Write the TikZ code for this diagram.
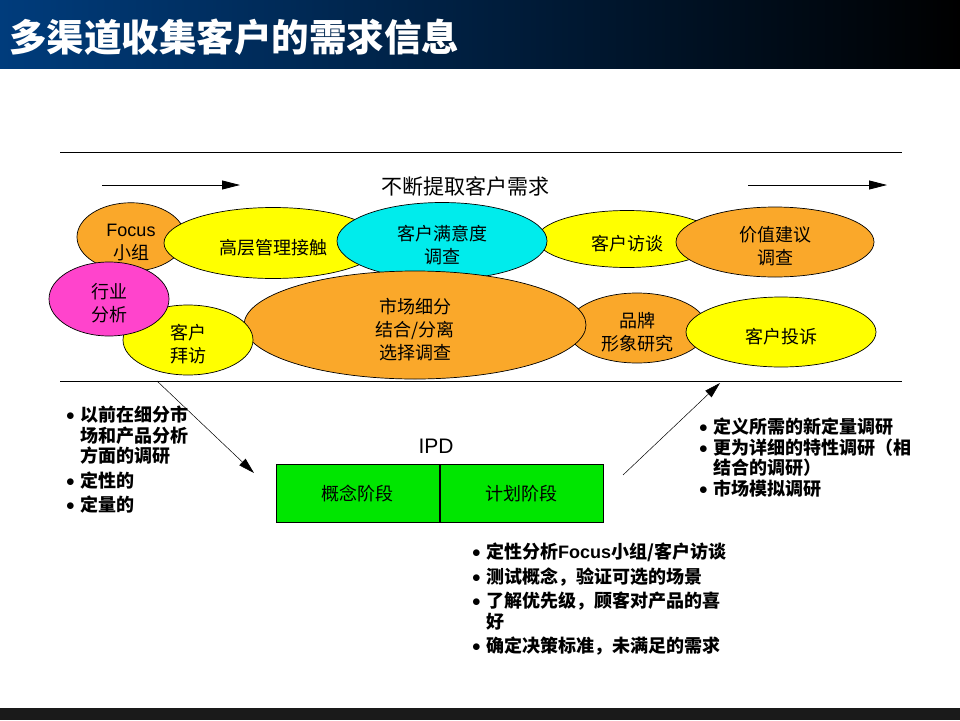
\documentclass[tikz,border=0pt]{standalone}
\usepackage{fontspec}
\setmainfont{Noto Sans CJK SC}
\newfontfamily\arial{Liberation Sans}
\usetikzlibrary{shapes.geometric, positioning, arrows.meta}
\definecolor{barblue}{RGB}{0,60,124}
\definecolor{footgray}{RGB}{26,26,26}
\definecolor{bubbleorange}{RGB}{250,168,42}
\definecolor{bubbleyellow}{RGB}{255,255,0}
\definecolor{bubblecyan}{RGB}{0,236,236}
\definecolor{bubblepink}{RGB}{255,68,204}
\definecolor{phasegreen}{RGB}{0,230,0}
\tikzset{
    bubble/.style={ellipse, draw, line width=0.7pt, inner sep=0pt, align=center,
        font=\fontsize{18}{23}\selectfont}, % survey ellipses
    phase/.style={rectangle, draw, line width=0.8pt, fill=phasegreen, inner sep=0pt,
        minimum width=163pt, minimum height=58pt, font=\fontsize{18}{22}\selectfont},
    bullets/.style={anchor=north west, inner sep=0pt, align=left,
        font=\bfseries\fontsize{18}{20.5}\selectfont},
    flow/.style={-{Triangle[length=18pt,width=9pt]}, line width=0.8pt},
    lead/.style={-{Triangle[length=16pt,width=9pt]}, line width=0.5pt},
    rule/.style={line width=0.8pt},
}
\newcommand{\bul}{\makebox[14pt][l]{\raisebox{1pt}{$\bullet$}}}
\newcommand{\cont}{\hspace*{14pt}}
\newcommand{\lift}{\rule{0pt}{24pt}} % text sits a little low in the ellipses

\begin{document}
\begin{tikzpicture}[x=1pt, y=-1pt]
    \useasboundingbox (0,0) rectangle (960,720);
    % Title bar and footer
    \fill[left color=barblue, right color=black] (0,0) rectangle (960,68);
    \node[anchor=west, inner sep=0pt, text=white, font=\bfseries\fontsize{37.5}{40}\selectfont]
        (title) at (9,37) {多渠道收集客户的需求信息};
    \fill[footgray] (0,708) rectangle (960,720);

    % Rules and the flow arrows
    \coordinate (topl) at (60,152);
    \coordinate (topr) at (902,152);
    \coordinate (botl) at (60,381);
    \coordinate (botr) at (902,381);
    \draw[rule] (topl) -- (topr);
    \draw[rule] (botl) -- (botr);
    \coordinate (fa1) at (102,185);
    \coordinate (fa2) at (240,185);
    \coordinate (fb1) at (748,185);
    \coordinate (fb2) at (887,185);
    \draw[flow] (fa1) -- (fa2);
    \draw[flow] (fb1) -- (fb2);
    \node[font=\fontsize{21}{24}\selectfont] (goal) at (465,186) {不断提取客户需求};

    % Ellipses, back to front
    \node[bubble, fill=bubbleorange, minimum width=108pt, minimum height=68pt]
        (focus) at (131,237) {\lift{\arial Focus}\\小组};
    \node[bubble, fill=bubbleyellow, minimum width=218pt, minimum height=71pt]
        (exec) at (273,243) {\lift 高层管理接触};
    \node[bubble, fill=bubbleyellow, minimum width=180pt, minimum height=57pt]
        (interview) at (627,239) {\lift 客户访谈};
    \node[bubble, fill=bubblecyan, minimum width=210pt, minimum height=77pt]
        (satis) at (442,241) {\lift 客户满意度\\调查};
    \node[bubble, fill=bubbleorange, minimum width=198pt, minimum height=70pt]
        (value) at (775,242) {\lift 价值建议\\调查};
    \node[bubble, fill=bubbleorange, minimum width=140pt, minimum height=70pt]
        (brand) at (637,328) {\lift 品牌\\形象研究};
    \node[bubble, fill=bubbleorange, minimum width=342pt, minimum height=108pt]
        (segment) at (415,325) {\lift 市场细分\\结合/分离\\选择调查};
    \node[bubble, fill=bubbleyellow, minimum width=190pt, minimum height=70pt]
        (complaint) at (781,332) {\lift 客户投诉};
    \node[bubble, fill=bubbleyellow, minimum width=130pt, minimum height=70pt]
        (visit) at (188,340) {\lift 客户\\拜访};
    \node[bubble, fill=bubblepink, minimum width=120pt, minimum height=74pt]
        (industry) at (109,299) {\lift 行业\\分析};

    % IPD phases
    \node[phase, anchor=north west] (concept) at (276,464) {概念阶段};
    \node[phase, right=0pt of concept] (plan) {计划阶段};
    \node[font=\arial\fontsize{21}{24}\selectfont] (ipd) at (436,446) {IPD};

    % Leads in and out
    \coordinate (lstart) at (157,381);
    \coordinate (ltip) at (254,473);
    \coordinate (rstart) at (623,475);
    \coordinate (rtip) at (720,383);
    \draw[lead] (lstart) -- (ltip);
    \draw[lead] (rstart) -- (rtip);

    % Notes
    \node[bullets] (before) at (66,406)
        {\bul 以前在细分市\\ \cont 场和产品分析\\ \cont 方面的调研\\[4pt]
         \bul 定性的\\[4pt] \bul 定量的};
    \node[bullets] (after) at (699,418)
        {\bul 定义所需的新定量调研\\ \bul 更为详细的特性调研（相\\
         \cont 结合的调研）\\ \bul 市场模拟调研};
    \node[bullets] (during) at (472,543)
        {\bul 定性分析{\arial Focus}小组/客户访谈\\[4pt] \bul 测试概念，验证可选的场景\\[4pt]
         \bul 了解优先级，顾客对产品的喜\\ \cont 好\\[4pt] \bul 确定决策标准，未满足的需求};
\end{tikzpicture}
\end{document}
